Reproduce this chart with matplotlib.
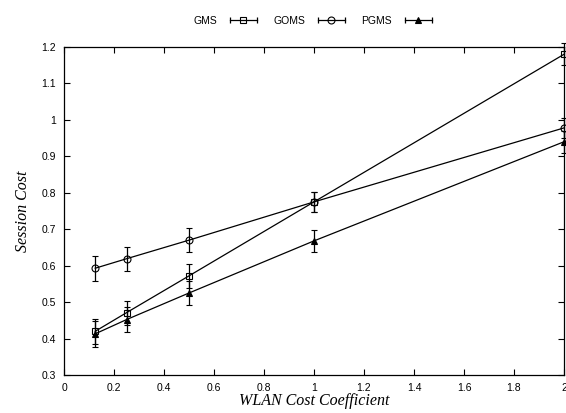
import matplotlib
matplotlib.use("Agg")
import matplotlib.pyplot as plt
from matplotlib.lines import Line2D
from matplotlib.legend_handler import HandlerLine2D, HandlerTuple

# data
coef = [0.125, 0.25, 0.5, 1.0, 2.0]
gms = [0.420, 0.471, 0.572, 0.775, 1.180]
gms_err = [0.035, 0.033, 0.032, 0.028, 0.030]
goms = [0.593, 0.619, 0.670, 0.775, 0.978]
goms_err = [0.034, 0.033, 0.032, 0.028, 0.028]
pgms = [0.413, 0.452, 0.525, 0.668, 0.940]
pgms_err = [0.035, 0.034, 0.033, 0.031, 0.030]

names = ["GMS", "GOMS", "PGMS"]
series = [(gms, gms_err, "s", "none"), (goms, goms_err, "o", "none"), (pgms, pgms_err, "^", "black")]

xticks = [0, 0.2, 0.4, 0.6, 0.8, 1, 1.2, 1.4, 1.6, 1.8, 2]
xlabels = ["0", "0.2", "0.4", "0.6", "0.8", "1", "1.2", "1.4", "1.6", "1.8", "2"]
yticks = [0.3, 0.4, 0.5, 0.6, 0.7, 0.8, 0.9, 1.0, 1.1, 1.2]
ylabels = ["0.3", "0.4", "0.5", "0.6", "0.7", "0.8", "0.9", "1", "1.1", "1.2"]

fig = plt.figure(figsize=(5.66, 4.13), dpi=100)
ax = fig.add_axes([64 / 566, 38 / 413, 500 / 566, 328 / 413])

handles = []
handler_map = {}
for (vals, err, mk, fc), name in zip(series, names):
    ax.errorbar(coef, vals, yerr=err, color="black", lw=0.9, elinewidth=0.9,
                capsize=2.5, capthick=0.9, marker=mk, ms=5 if mk != "^" else 4.5,
                mfc=fc, mec="black", mew=0.8, clip_on=False)
    caps = Line2D([], [], color="black", lw=0.9, marker="|", ms=5, mew=0.9)
    mark = Line2D([], [], ls="none", marker=mk, ms=5 if mk != "^" else 4.5,
                  mfc=fc, mec="black", mew=0.8)
    handler_map[caps] = HandlerLine2D(numpoints=2)
    handler_map[mark] = HandlerLine2D(numpoints=1)
    handles.append((caps, mark))

handler_map[tuple] = HandlerTuple(ndivide=1)
leg = ax.legend(handles, names, handler_map=handler_map, loc="lower center",
                bbox_to_anchor=(0.5, 1.035), ncol=3, frameon=False, markerfirst=False,
                handlelength=3.2, columnspacing=1.3, handletextpad=0.9,
                prop={"family": "Liberation Sans", "size": 7.5})

ax.set_xlim(0, 2)
ax.set_ylim(0.3, 1.2)
ax.set_xticks(xticks)
ax.set_xticklabels(xlabels)
ax.set_yticks(yticks)
ax.set_yticklabels(ylabels)
ax.tick_params(direction="in", top=True, right=True, length=4, width=0.8,
               labelsize=7.5, pad=6)
for lab in ax.get_xticklabels() + ax.get_yticklabels():
    lab.set_family("Liberation Sans")
for sp in ax.spines.values():
    sp.set_linewidth(0.9)

ax.set_xlabel("WLAN Cost Coefficient", family="Liberation Serif", style="italic",
              fontsize=11.5, labelpad=0)
ax.set_ylabel("Session Cost", family="Liberation Serif", style="italic",
              fontsize=11.5, labelpad=7)

fig.savefig("out.png", dpi=100)
